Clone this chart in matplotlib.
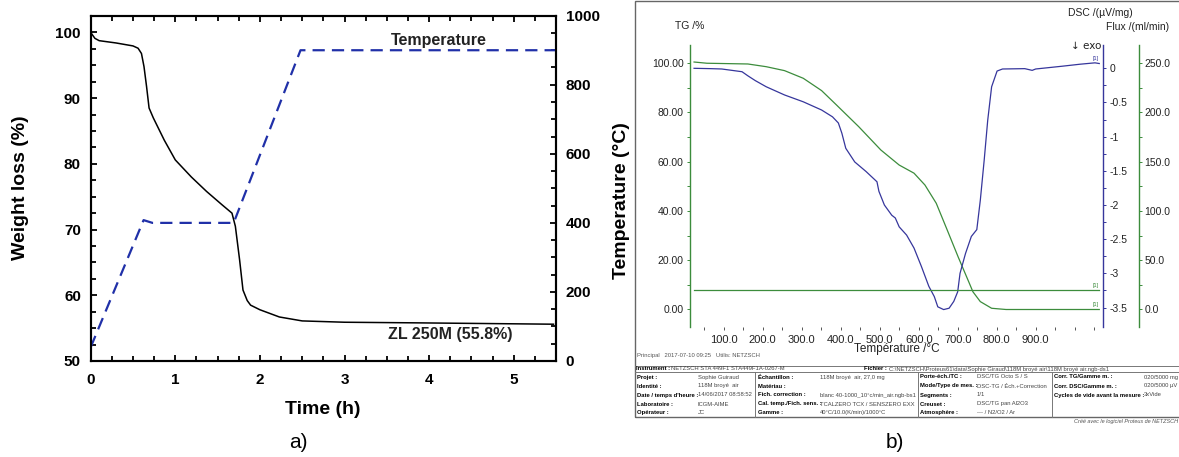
import matplotlib
matplotlib.use("Agg")
import matplotlib.pyplot as plt
from matplotlib import font_manager
from matplotlib.patches import Rectangle
from matplotlib.lines import Line2D

plt.rcParams['font.family'] = ['Liberation Sans', 'DejaVu Sans']

# the instrument sheet uses a condensed face when one is installed
installed = {f.name for f in font_manager.fontManager.ttflist}
if 'Liberation Sans Narrow' in installed:
    sheet_font, tiny = ['Liberation Sans Narrow', 'DejaVu Sans'], 5.0
else:
    sheet_font, tiny = ['Liberation Sans', 'DejaVu Sans'], 4.25

W, H = 1179, 457


def fx(x):
    return x / W


def fy(y):
    return 1 - y / H


# a) isothermal run: weight and programmed temperature vs time
time_h = [0, 0.05, 0.1, 0.3, 0.5, 0.56, 0.6, 0.63, 0.66, 0.69, 0.74, 0.87, 1.0, 1.19,
          1.37, 1.55, 1.67, 1.71, 1.76, 1.8, 1.85, 1.89, 2.0, 2.23, 2.5, 3.0, 3.9, 5.47]
weight_pct = [100, 99.1, 98.75, 98.4, 97.95, 97.6, 96.8, 94.8, 91.8, 88.5, 87.0, 83.6, 80.6, 78.0,
              75.8, 73.8, 72.5, 70.5, 65.4, 60.8, 59.2, 58.5, 57.8, 56.7, 56.1, 55.9, 55.8, 55.6]
prog_time_h = [0, 0.625, 0.73, 1.69, 2.48, 5.5]
prog_temp_c = [40, 408, 400, 400, 900, 900]
a_time_ticks = [0, 1, 2, 3, 4, 5]
a_weight_ticks = [50, 60, 70, 80, 90, 100]
a_temp_ticks = [0, 200, 400, 600, 800, 1000]

# b) STA run: TG, DSC and purge flux vs temperature
tg_temp = [24, 57, 162, 209, 256, 304, 351, 389, 446, 503, 550, 588, 616, 645,
           673, 701, 730, 739, 758, 787, 824, 1063]
tg_pct = [100.4, 99.9, 99.6, 98.5, 96.9, 93.8, 88.8, 83.0, 74.2, 64.7, 58.6, 55.3, 50.5, 43.1,
          32.3, 21.4, 10.6, 7.2, 3.2, 0.5, 0.0, 0.0]
dsc_temp = [24, 67, 95, 147, 162, 181, 209, 256, 304, 351, 379, 394, 403, 413, 436, 465,
            493, 498, 512, 531, 540, 550, 569, 588, 607, 626, 640, 649, 664, 678, 690, 700,
            706, 720, 735, 749, 758, 768, 777, 787, 801, 815, 872, 891, 900, 967, 1014, 1052, 1063]
dsc_uv = [0.0, -0.005, -0.01, -0.05, -0.11, -0.18, -0.27, -0.39, -0.49, -0.61, -0.71, -0.80,
          -0.95, -1.17, -1.37, -1.51, -1.66, -1.80, -2.0, -2.15, -2.19, -2.32, -2.44, -2.63,
          -2.90, -3.19, -3.34, -3.49, -3.53, -3.51, -3.41, -3.27, -3.0, -2.71, -2.46, -2.36,
          -1.93, -1.34, -0.76, -0.27, -0.04, -0.01, -0.005, -0.03, -0.01, 0.03, 0.06, 0.08, 0.07]
flux_temp = [24, 1063]
flux_ml = [20, 20]
b_temp_ticks = [100, 200, 300, 400, 500, 600, 700, 800, 900]
b_tg_ticks = [0, 20, 40, 60, 80, 100]
b_dsc_ticks = [0, -0.5, -1, -1.5, -2, -2.5, -3, -3.5]
b_flux_ticks = [0, 50, 100, 150, 200, 250]

# measurement sheet below the STA curves
sheet_header = [("Instrument :", "NETZSCH STA 449F1 STA449F1A-0267-M"),
                ("Fichier :", "C:\\NETZSCH\\Proteus61\\data\\Sophie Giraud\\118M broyé air\\118M broyé air.ngb-ds1")]
sheet_col1 = [("Projet :", "Sophie Guiraud"), ("Identité :", "118M broyé  air"),
              ("Date / temps d'heure :", "14/06/2017 08:58:52"), ("Laboratoire :", "ICGM-AIME"),
              ("Opérateur :", "JC")]
sheet_col2 = [("Échantillon :", "118M broyé  air, 27,0 mg"), ("Matériau :", ""),
              ("Fich. correction :", "blanc 40-1000_10°c/min_air.ngb-bs1"),
              ("Cal. temp./Fich. sens. :", "TCALZERO TCX / SENSZERO EXX"),
              ("Gamme :", "40°C/10.0(K/min)/1000°C")]
sheet_col3 = [("Porte-éch./TC :", "DSC/TG Octo S / S"), ("Mode/Type de mes. :", "DSC-TG / Éch.+Correction"),
              ("Segments :", "1/1"), ("Creuset :", "DSC/TG pan Al2O3"), ("Atmosphère :", "--- / N2/O2 / Ar")]
sheet_col4 = [("Corr. TG/Gamme m. :", "020/5000 mg"), ("Corr. DSC/Gamme m. :", "020/5000 µV"),
              ("Cycles de vide avant la mesure :", "3xVide")]

fig = plt.figure(figsize=(W / 100, H / 100), dpi=100)

# ---------------- a) ----------------
ax = fig.add_axes([fx(90.7), fy(361), fx(556) - fx(90.7), fy(15.7) - fy(361)])
ax.plot(time_h, weight_pct, color='black', lw=1.1)
ax.set_xlim(0, 5.5)
ax.set_ylim(50, 102.55)
ax.set_xticks(a_time_ticks, labels=[str(t) for t in a_time_ticks], fontweight='bold', fontsize=11)
ax.set_yticks(a_weight_ticks, labels=[str(w) for w in a_weight_ticks], fontweight='bold', fontsize=11)
ax.set_xticks([i * 0.25 for i in range(23)], minor=True)
ax.set_yticks([50 + i * 2.5 for i in range(22)], minor=True)
ax.tick_params(which='both', direction='in', top=True, width=1.3, colors='black')
ax.tick_params(which='major', length=4.5, pad=7)
ax.tick_params(which='minor', length=3.5)
ax.tick_params(axis='x', which='major', pad=9)

ax2 = ax.twinx()
ax2.plot(prog_time_h, prog_temp_c, color='#2030a8', lw=1.6, dashes=(5.5, 3.2))
ax2.set_ylim(0, 1000)
ax2.set_yticks(a_temp_ticks, labels=[str(t) for t in a_temp_ticks], fontweight='bold', fontsize=11)
ax2.set_yticks(list(range(0, 1001, 50)), minor=True)
ax2.tick_params(which='both', direction='in', width=1.3)
ax2.tick_params(which='major', length=4.5, pad=7)
ax2.tick_params(which='minor', length=3.5)
for a in (ax, ax2):
    for s in a.spines.values():
        s.set_linewidth(1.5)

ax.text(3.55, 98.7, 'Temperature', fontsize=11.5, fontweight='bold', color='#222',
        va='center', ha='left')
ax.text(3.52, 54.0, 'ZL 250M (55.8%)', fontsize=11.5, fontweight='bold', color='#222',
        va='center', ha='left')

fig.text(fx(21), fy(188), 'Weight loss (%)', rotation=90, fontsize=14, fontweight='bold',
         ha='center', va='center')
fig.text(fx(323), fy(410), 'Time (h)', fontsize=14, fontweight='bold', ha='center', va='center')
fig.text(fx(621), fy(201), 'Temperature (°C)', rotation=90, fontsize=14, fontweight='bold',
         ha='center', va='center')
fig.text(fx(298), fy(443), 'a)', fontsize=15, ha='center', va='center')

# ---------------- b) ----------------
green = '#3c8c3c'
blue = '#36369c'
small = 7.5

fig.patches.append(Rectangle((fx(635), fy(417)), 1.05 - fx(635), fy(1) - fy(417),
                             transform=fig.transFigure, fill=False, ec='#666', lw=1))
for yy in (365.7, 371.7):
    fig.lines.append(Line2D([fx(635), 1.05], [fy(yy), fy(yy)], transform=fig.transFigure,
                            color='#777', lw=0.7))
for xx in (755, 918, 1051.5):
    fig.lines.append(Line2D([fx(xx), fx(xx)], [fy(371.7), fy(417)], transform=fig.transFigure,
                            color='#777', lw=0.7))

axb = fig.add_axes([fx(689.5), fy(327), fx(1103) - fx(689.5), fy(45) - fy(327)])
axb.patch.set_visible(False)
axb.plot(tg_temp, tg_pct, color=green, lw=0.9)
axb.set_xlim(12.3, 1072.6)
axb.set_ylim(-7.1, 107.3)
for side in ('top', 'right', 'bottom'):
    axb.spines[side].set_visible(False)
axb.spines['left'].set_color(green)
axb.spines['left'].set_linewidth(1.0)
axb.set_xticks(b_temp_ticks, labels=[f'{t:.1f}' for t in b_temp_ticks], fontsize=small + 0.5)
axb.set_xticks(list(range(50, 1051, 50)), minor=True)
axb.set_yticks(b_tg_ticks, labels=[f'{t:.2f}' for t in b_tg_ticks], fontsize=small)
axb.set_yticks(list(range(0, 101, 10)), minor=True)
axb.tick_params(axis='x', which='both', length=2.5, width=0.7, color='#555', labelcolor='#222', pad=3.5)
axb.tick_params(axis='y', which='both', length=2.5, width=0.7, color=green, labelcolor='#222', pad=1.8)

axd = axb.twinx()
axd.plot(dsc_temp, dsc_uv, color=blue, lw=0.9)
axd.set_ylim(-3.785, 0.341)
for side in ('top', 'left', 'bottom'):
    axd.spines[side].set_visible(False)
axd.spines['right'].set_color(blue)
axd.spines['right'].set_linewidth(1.0)
axd.set_yticks(b_dsc_ticks, labels=[f'{t:g}' for t in b_dsc_ticks], fontsize=small)
axd.set_yticks([-i * 0.25 for i in range(15)], minor=True)
axd.tick_params(axis='y', which='both', length=2.5, width=0.7, color=blue, labelcolor='#222', pad=2.2)

axf = axb.twinx()
axf.spines['right'].set_position(('axes', (1139.3 - 689.5) / (1103 - 689.5)))
axf.plot(flux_temp, flux_ml, color=green, lw=0.9)
axf.set_ylim(-17.75, 268.25)
for side in ('top', 'left', 'bottom'):
    axf.spines[side].set_visible(False)
axf.spines['right'].set_color(green)
axf.spines['right'].set_linewidth(1.0)
axf.set_yticks(b_flux_ticks, labels=[f'{t:.1f}' for t in b_flux_ticks], fontsize=small)
axf.set_yticks(list(range(0, 251, 25)), minor=True)
axf.tick_params(axis='y', which='both', length=2.5, width=0.7, color=green, labelcolor='#222', pad=1.2)

# curve markers at the end of each segment
axb.text(tg_temp[-1] - 2, tg_pct[-1] + 1.2, '[1]', fontsize=4, color=green, ha='right', va='bottom')
axf.text(flux_temp[-1] - 2, flux_ml[-1] + 2, '[1]', fontsize=4, color=green, ha='right', va='bottom')
axd.text(dsc_temp[-1] - 2, dsc_uv[-1] + 0.03, '[1]', fontsize=4, color=blue, ha='right', va='bottom')

fig.text(fx(690), fy(26), 'TG /%', fontsize=small, color='#222', ha='center', va='center')
fig.text(fx(1132.5), fy(13.3), 'DSC /(µV/mg)', fontsize=small, color='#222', ha='right', va='center')
fig.text(fx(1169.3), fy(26.7), 'Flux /(ml/min)', fontsize=small, color='#222', ha='right', va='center')
fig.text(fx(1101.7), fy(46), '↓ exo', fontsize=small, color='#222', ha='right', va='center',
         family=['DejaVu Sans'])
fig.text(fx(897), fy(349.3), 'Température /°C', fontsize=small + 1, color='#222', ha='center', va='center')
fig.text(fx(637.3), fy(356), 'Principal   2017-07-10 09:25   Utilis: NETZSCH', fontsize=tiny,
         color='#555', ha='left', va='center', family=sheet_font)

fig.text(fx(636.5), fy(369), sheet_header[0][0], fontsize=tiny, fontweight='bold', va='center',
         family=sheet_font)
fig.text(fx(671), fy(369), sheet_header[0][1], fontsize=tiny, color='#444', va='center',
         family=sheet_font)
fig.text(fx(864), fy(369), sheet_header[1][0], fontsize=tiny, fontweight='bold', va='center',
         family=sheet_font)
fig.text(fx(889), fy(369), sheet_header[1][1], fontsize=tiny, color='#444', va='center',
         family=sheet_font)

row_y = [377, 386, 395, 404, 412.7]
columns = [(sheet_col1, 637.3, 698), (sheet_col2, 757.5, 820),
           (sheet_col3, 920, 977), (sheet_col4, 1054, 1144)]
for col, x_lab, x_val in columns:
    for (lab, val), yy in zip(col, row_y):
        fig.text(fx(x_lab), fy(yy), lab, fontsize=tiny, fontweight='bold', va='center',
                 family=sheet_font)
        fig.text(fx(x_val), fy(yy), val, fontsize=tiny, color='#444', va='center',
                 family=sheet_font)

fig.text(fx(1178), fy(422), 'Créé avec le logiciel Proteus de NETZSCH', fontsize=tiny - 0.3,
         style='italic', color='#555', ha='right', va='center', family=sheet_font)
fig.text(fx(895), fy(443), 'b)', fontsize=15, ha='center', va='center')

fig.savefig('out.png', dpi=100)
